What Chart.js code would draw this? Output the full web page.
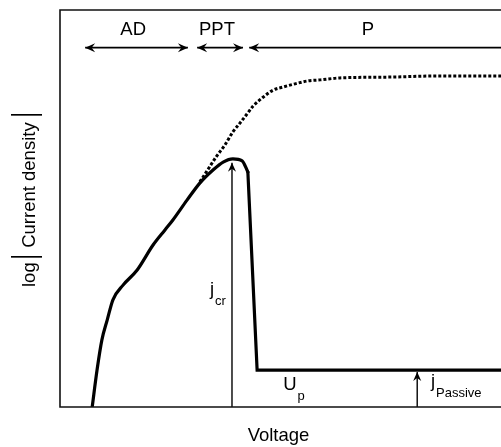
<!DOCTYPE html>
<html lang="en">
<head>
<meta charset="UTF-8">
<title>Polarisation curve</title>
<script src="https://cdn.jsdelivr.net/npm/chart.js"></script>
<style>
    html, body { margin: 0; padding: 0; background: #ffffff; }
    canvas { display: block; }
</style>
</head>
<body>
<canvas id="curve" width="501" height="447"></canvas>
<script>
    // Measured (solid) polarisation curve, voltage vs log|j| in arbitrary units 0..100
    const solidV = [7.3, 8.4, 9.5, 10.7, 12.0, 14.3, 17.5, 21.1, 23.8, 25.6, 28.8, 31.7, 34.7, 37.0, 39.2, 41.3, 42.6, 44.7, 100];
    const solidJ = [0, 9.3, 16.9, 21.9, 27.0, 30.7, 34.5, 40.8, 44.6, 47.1, 52.1, 56.4, 59.7, 61.7, 62.5, 62.0, 59.2, 9.3, 9.3];
    // index where the curve stops rising smoothly and breaks down to the plateau
    const breakAt = 16;

    // Active dissolution continued without passivation (dotted)
    const dottedV = [31.7, 33.3, 35.4, 37.4, 39.2, 40.8, 42.4, 43.8, 45.8, 48.3, 50.6, 53.3, 56.0, 59.0, 63.5, 74.8, 86.2, 100];
    const dottedJ = [56.7, 59.4, 63.0, 66.0, 69.3, 71.5, 73.8, 75.8, 77.8, 79.8, 80.6, 81.4, 82.1, 82.4, 82.9, 83.1, 83.4, 83.4];

    // Regions along the voltage axis
    const regionNames = ['AD', 'PPT', 'P'];
    const regionFrom = [5.7, 31.1, 42.9];
    const regionTo = [29.0, 41.5, 100];
    const regionHeads = [['start', 'end'], ['start', 'end'], ['start']];
    const regionLevel = 90.5;

    // Current markers: critical current at the peak, passive current on the plateau
    const markerV = [39.0, 81.0];
    const markerJ = [61.5, 8.8];

    const FONT = '"Liberation Sans", Arial, Helvetica, sans-serif';
    const INK = '#000000';

    const notes = [
        { text: 'AD', v: 16.6, j: 93.7, align: 'center' },
        { text: 'PPT', v: 35.6, j: 93.7, align: 'center' },
        { text: 'P', v: 69.8, j: 93.7, align: 'center' },
        { text: 'j', sub: 'cr', v: 34.0, j: 28.1, align: 'left' },
        { text: 'U', sub: 'p', v: 50.6, j: 4.3, align: 'left' },
        { text: 'j', sub: 'Passive', v: 84.1, j: 5.0, align: 'left' }
    ];

    const toPoints = (xs, ys) => xs.map((x, i) => ({ x: x, y: ys[i] }));
    const solidPts = toPoints(solidV, solidJ);

    const datasets = [
        {
            // rising branch up to the peak shoulder, smoothed
            data: solidPts.slice(0, breakAt + 1),
            borderColor: INK, borderWidth: 3.2, pointRadius: 0,
            cubicInterpolationMode: 'monotone', borderCapStyle: 'round'
        },
        {
            // sharp breakdown to the passive plateau
            data: solidPts.slice(breakAt),
            borderColor: INK, borderWidth: 3.2, pointRadius: 0, tension: 0,
            borderJoinStyle: 'miter', borderCapStyle: 'round'
        },
        {
            data: toPoints(dottedV, dottedJ),
            borderColor: INK, borderWidth: 3, pointRadius: 0,
            cubicInterpolationMode: 'monotone',
            borderDash: [3, 2]
        }
    ];
    regionNames.forEach((name, i) => {
        datasets.push({
            label: name,
            data: [{ x: regionFrom[i], y: regionLevel }, { x: regionTo[i], y: regionLevel }],
            borderColor: INK, borderWidth: 1.7, pointRadius: 0,
            heads: regionHeads[i], headSize: 10
        });
    });
    markerV.forEach((v, i) => {
        datasets.push({
            data: [{ x: v, y: 0 }, { x: v, y: markerJ[i] }],
            borderColor: INK, borderWidth: 1.4, pointRadius: 0,
            heads: ['end'], headSize: 9
        });
    });

    function drawHead(ctx, from, to, s) {
        const ang = Math.atan2(to.y - from.y, to.x - from.x);
        ctx.save();
        ctx.translate(to.x, to.y);
        ctx.rotate(ang);
        ctx.beginPath();
        ctx.moveTo(0, 0);
        ctx.lineTo(-s, -s * 0.45);
        ctx.lineTo(-s * 0.65, 0);
        ctx.lineTo(-s, s * 0.45);
        ctx.closePath();
        ctx.fill();
        ctx.restore();
    }

    const figureExtras = {
        id: 'figureExtras',
        afterDatasetsDraw(chart) {
            const { ctx, chartArea: a, scales: { x, y } } = chart;
            ctx.save();

            // frame: left, top and bottom; the right side runs off the canvas
            ctx.strokeStyle = '#111111';
            ctx.lineWidth = 1.6;
            ctx.beginPath();
            ctx.moveTo(a.right + 2, a.top);
            ctx.lineTo(a.left, a.top);
            ctx.lineTo(a.left, a.bottom);
            ctx.lineTo(a.right + 2, a.bottom);
            ctx.stroke();

            // arrow heads on the range / marker lines
            chart.data.datasets.forEach((ds, i) => {
                if (!ds.heads) return;
                const pts = chart.getDatasetMeta(i).data;
                const p0 = pts[0], p1 = pts[pts.length - 1];
                ctx.fillStyle = ds.borderColor;
                if (ds.heads.includes('start')) drawHead(ctx, p1, p0, ds.headSize);
                if (ds.heads.includes('end')) drawHead(ctx, p0, p1, ds.headSize);
            });

            // text labels with optional subscripts
            ctx.fillStyle = INK;
            ctx.textBaseline = 'alphabetic';
            notes.forEach(n => {
                const px = x.getPixelForValue(n.v);
                const py = y.getPixelForValue(n.j);
                ctx.font = '18.5px ' + FONT;
                ctx.textAlign = n.align;
                ctx.fillText(n.text, px, py);
                if (n.sub) {
                    const w = ctx.measureText(n.text).width;
                    ctx.font = '13px ' + FONT;
                    ctx.textAlign = 'left';
                    ctx.fillText(n.sub, px + w + 1, py + 10);
                }
            });

            // x axis title
            ctx.font = '18.5px ' + FONT;
            ctx.textAlign = 'center';
            ctx.fillText('Voltage', (a.left + a.right) / 2 - 2, a.bottom + 34);

            // y axis title: log |Current density|, read bottom to top
            ctx.save();
            ctx.translate(35, 287);
            ctx.rotate(-Math.PI / 2);
            ctx.textAlign = 'left';
            ctx.font = '18.5px ' + FONT;
            const logW = ctx.measureText('log').width;
            ctx.fillText('log', 0, 0);
            const bar1 = logW + 5.5;
            const cdStart = bar1 + 9;
            ctx.fillText('Current density', cdStart, 0);
            const cdW = ctx.measureText('Current density').width;
            const bar2 = cdStart + cdW + 7.5;
            // tall, thin absolute-value bars
            ctx.font = '34px ' + FONT;
            ctx.textAlign = 'center';
            [bar1, bar2].forEach(b => {
                ctx.save();
                ctx.translate(b, 0);
                ctx.scale(0.6, 1);
                ctx.fillText('|', 0, 0);
                ctx.restore();
            });
            ctx.restore();

            ctx.restore();
        }
    };

    new Chart(document.getElementById('curve'), {
        type: 'line',
        data: { datasets: datasets },
        options: {
            responsive: false,
            devicePixelRatio: 1,
            animation: false,
            layout: { padding: { left: 60, top: 10, right: 0, bottom: 40 } },
            plugins: { legend: { display: false }, tooltip: { enabled: false } },
            scales: {
                x: { type: 'linear', min: 0, max: 100, display: false },
                y: { type: 'linear', min: 0, max: 100, display: false }
            }
        },
        plugins: [figureExtras]
    });
</script>
</body>
</html>
